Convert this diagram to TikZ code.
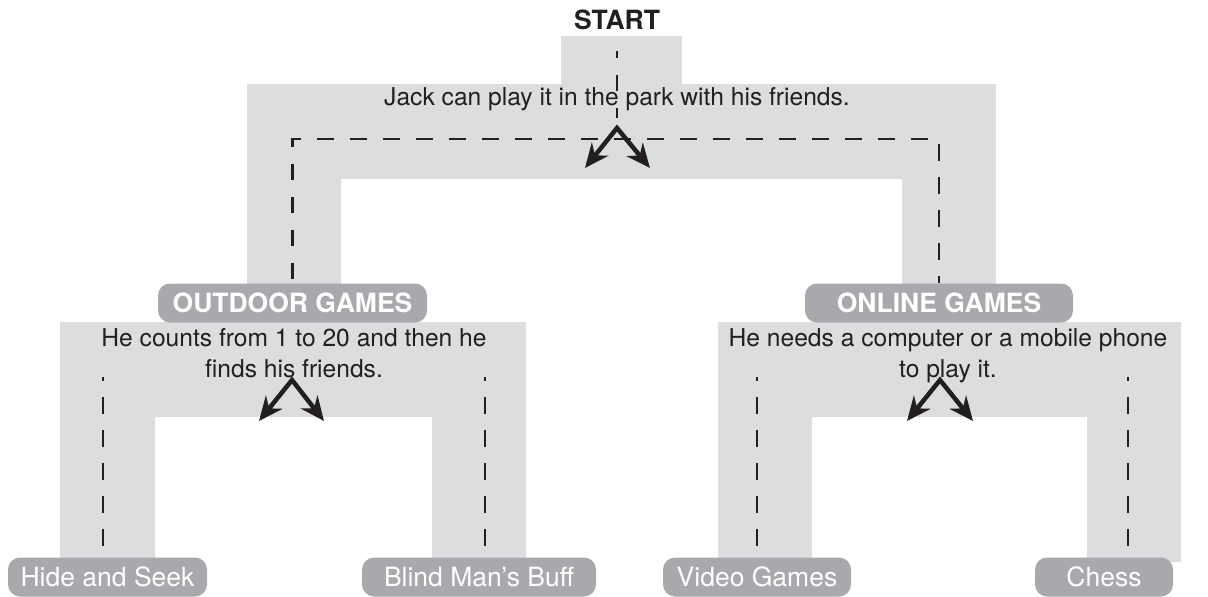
\documentclass[tikz,border=0pt]{standalone}
\usepackage{fontspec}
\setmainfont{TeX Gyre Heros}
\usepackage{xcolor}
\usepackage{tikz}
\usetikzlibrary{arrows.meta, positioning}

\definecolor{bandgray}{HTML}{DCDDDE}
\definecolor{pillgray}{HTML}{A7A9AC}
\definecolor{inkdark}{HTML}{231F20}

\begin{document}
\begin{tikzpicture}[
    x=1pt, y=-1pt,
    pill/.style={rectangle, rounded corners=12pt, fill=pillgray, text=white, minimum height=39pt, inner sep=0pt, font=\fontsize{26.5}{30}\selectfont},
    headpill/.style={pill, font=\bfseries\fontsize{26.5}{30}\selectfont},
    clue/.style={align=center, text=inkdark, inner sep=0pt, font=\fontsize{24.6}{31}\selectfont},
    route/.style={draw=inkdark, line width=2.9pt, dash pattern=on 16.5pt off 16.5pt},
    chevron/.style={{Stealth[length=24pt, width=21pt]}-{Stealth[length=24pt, width=21pt]}, draw=inkdark, line width=4.5pt, line join=miter},
]
\useasboundingbox (0,0) rectangle (1208,597);

% gray roads
\fill[bandgray] (561,36) rectangle (682,85);
\fill[bandgray] (247,290) -- (247,84) -- (996,84) -- (996,290) -- (902,290) -- (902,179) -- (341,179) -- (341,290) -- cycle;
\fill[bandgray] (60,562) -- (60,322) -- (526,322) -- (526,562) -- (432,562) -- (432,417) -- (155,417) -- (155,562) -- cycle;
\fill[bandgray] (718,562) -- (718,322) -- (1181,322) -- (1181,562) -- (1087,562) -- (1087,417) -- (812,417) -- (812,562) -- cycle;

\node[text=inkdark, font=\bfseries\fontsize{26.5}{30}\selectfont] (start) at (617,20) {START};
\node[clue, anchor=base] (park) at (617,105) {Jack can play it in the park with his friends.};

\node[headpill, minimum width=269pt] (outdoor) at (292.5,303) {OUTDOOR GAMES};
\node[headpill, minimum width=268pt] (online) at (939,303) {ONLINE GAMES};

\node[clue, anchor=north] (counts) at (294,328) {He counts from 1 to 20 and then he\\finds his friends.};
\node[clue, anchor=north] (needs) at (948,328) {He needs a computer or a mobile phone\\to play it.};

\node[pill, minimum width=199pt] (hide) at (107.5,577) {Hide and Seek};
\node[pill, minimum width=234pt] (blind) at (479,577) {Blind Man’s Buff};
\node[pill, minimum width=188pt] (video) at (757,577) {Video Games};
\node[pill, minimum width=138pt] (chess) at (1104,577) {Chess};

% dashed routes
\coordinate (drop) at (617,51);
\coordinate (rise) at (617,118);
\coordinate (fork) at (617,139);
\draw[route, dash phase=9.5pt] (drop) -- (rise);
\draw[route, dash phase=29pt] (outdoor.north) |- (fork) -| (online.north);

\coordinate (tapHide) at (103,377);
\coordinate (tapBlind) at (485,377);
\coordinate (tapVideo) at (757,377);
\coordinate (tapChess) at (1128,377);
\draw[route, dash phase=13pt] (tapHide) -- (tapHide |- hide.north);
\draw[route, dash phase=13pt] (tapBlind) -- (tapBlind |- blind.north);
\draw[route, dash phase=13pt] (tapVideo) -- (tapVideo |- video.north);
\draw[route, dash phase=13pt] (tapChess) -- (tapChess |- chess.north);

% chevrons
\coordinate (apex) at (617,128);
\coordinate (apexL) at (292,380);
\coordinate (apexR) at (940,380);
\draw[chevron] (585,168) coordinate (tipA) -- (apex) -- (650,168) coordinate (tipB);
\draw[chevron] (259,421) coordinate (tipC) -- (apexL) -- (324,421) coordinate (tipD);
\draw[chevron] (907,421) coordinate (tipE) -- (apexR) -- (973,421) coordinate (tipF);

\end{tikzpicture}
\end{document}
